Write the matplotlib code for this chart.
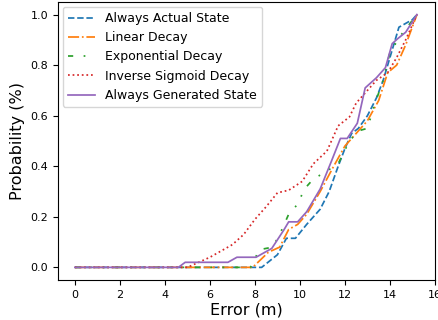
import matplotlib
matplotlib.use("Agg")
import matplotlib.pyplot as plt

# Always Actual State
actual_x = [0, 8.3, 9.0, 9.4, 9.8, 10.3, 10.9, 11.3, 11.7, 12.0, 12.3, 12.6, 13.0, 13.4, 13.7, 14.0, 14.4, 15.0, 15.2]
actual_y = [0, 0.0, 0.05, 0.115, 0.115, 0.17, 0.23, 0.30, 0.40, 0.47, 0.53, 0.55, 0.60, 0.67, 0.74, 0.83, 0.95, 0.98, 1.0]

# Linear Decay
linear_x = [0, 7.9, 8.6, 9.1, 9.5, 9.9, 10.3, 10.9, 11.5, 12.0, 12.5, 13.0, 13.5, 13.9, 14.3, 14.7, 15.2]
linear_y = [0, 0.0, 0.06, 0.08, 0.15, 0.17, 0.21, 0.30, 0.40, 0.48, 0.53, 0.58, 0.66, 0.77, 0.80, 0.88, 1.0]

# Exponential Decay
expo_x = [0, 7.8, 8.2, 8.8, 9.2, 9.5, 9.9, 10.2, 10.6, 11.0, 11.7, 12.2, 12.6, 13.0, 13.3, 13.7, 14.0, 14.5, 15.2]
expo_y = [0, 0.0, 0.07, 0.08, 0.15, 0.21, 0.25, 0.31, 0.35, 0.37, 0.41, 0.50, 0.54, 0.55, 0.64, 0.74, 0.85, 0.92, 1.0]

# Inverse Sigmoid Decay
invsig_x = [0, 5.0, 5.5, 6.0, 6.5, 7.0, 7.5, 8.0, 8.5, 9.0, 9.5, 10.1, 10.6, 11.2, 11.7, 12.2, 12.5, 13.0, 13.4, 13.9, 14.3, 14.7, 15.2]
invsig_y = [0, 0.0, 0.02, 0.04, 0.065, 0.09, 0.13, 0.19, 0.24, 0.295, 0.305, 0.34, 0.41, 0.46, 0.56, 0.595, 0.65, 0.70, 0.74, 0.77, 0.83, 0.90, 1.0]

# Always Generated State
gen_x = [0, 4.6, 4.9, 6.8, 7.2, 8.05, 8.75, 9.3, 9.5, 9.9, 10.3, 10.9, 11.4, 11.8, 12.1, 12.55, 12.9, 13.4, 13.8, 14.1, 14.35, 14.7, 15.2]
gen_y = [0, 0.0, 0.02, 0.02, 0.04, 0.04, 0.075, 0.15, 0.18, 0.18, 0.22, 0.31, 0.42, 0.51, 0.51, 0.57, 0.71, 0.75, 0.79, 0.885, 0.905, 0.93, 1.0]

labels = ["Always Actual State", "Linear Decay", "Exponential Decay",
          "Inverse Sigmoid Decay", "Always Generated State"]

fig = plt.figure(figsize=(4.38, 3.2), dpi=100)
ax = fig.add_axes([0.132, 0.125, 0.861, 0.869])
lw = 1.25
ax.plot(actual_x, actual_y, linestyle="--", color="tab:blue", lw=lw, label=labels[0])
ax.plot(linear_x, linear_y, linestyle="-.", color="tab:orange", lw=lw, label=labels[1])
ax.plot(expo_x, expo_y, linestyle=(0, (3, 6, 1, 6, 1, 6)), color="tab:green", lw=lw, label=labels[2])
ax.plot(invsig_x, invsig_y, linestyle=":", color="tab:red", lw=lw, label=labels[3])
ax.plot(gen_x, gen_y, linestyle="-", color="tab:purple", lw=lw, label=labels[4])

ax.set_xticks([0, 2, 4, 6, 8, 10, 12, 14, 16])
ax.set_yticks([0.0, 0.2, 0.4, 0.6, 0.8, 1.0])
ax.tick_params(labelsize=8)
ax.set_xlabel("Error (m)", fontsize=11.5, labelpad=2)
ax.set_ylabel("Probability (%)", fontsize=11.5, labelpad=4)
ax.legend(loc="upper left", fontsize=9, handlelength=2.2, borderaxespad=0.4)

fig.savefig("out.png", dpi=100)
